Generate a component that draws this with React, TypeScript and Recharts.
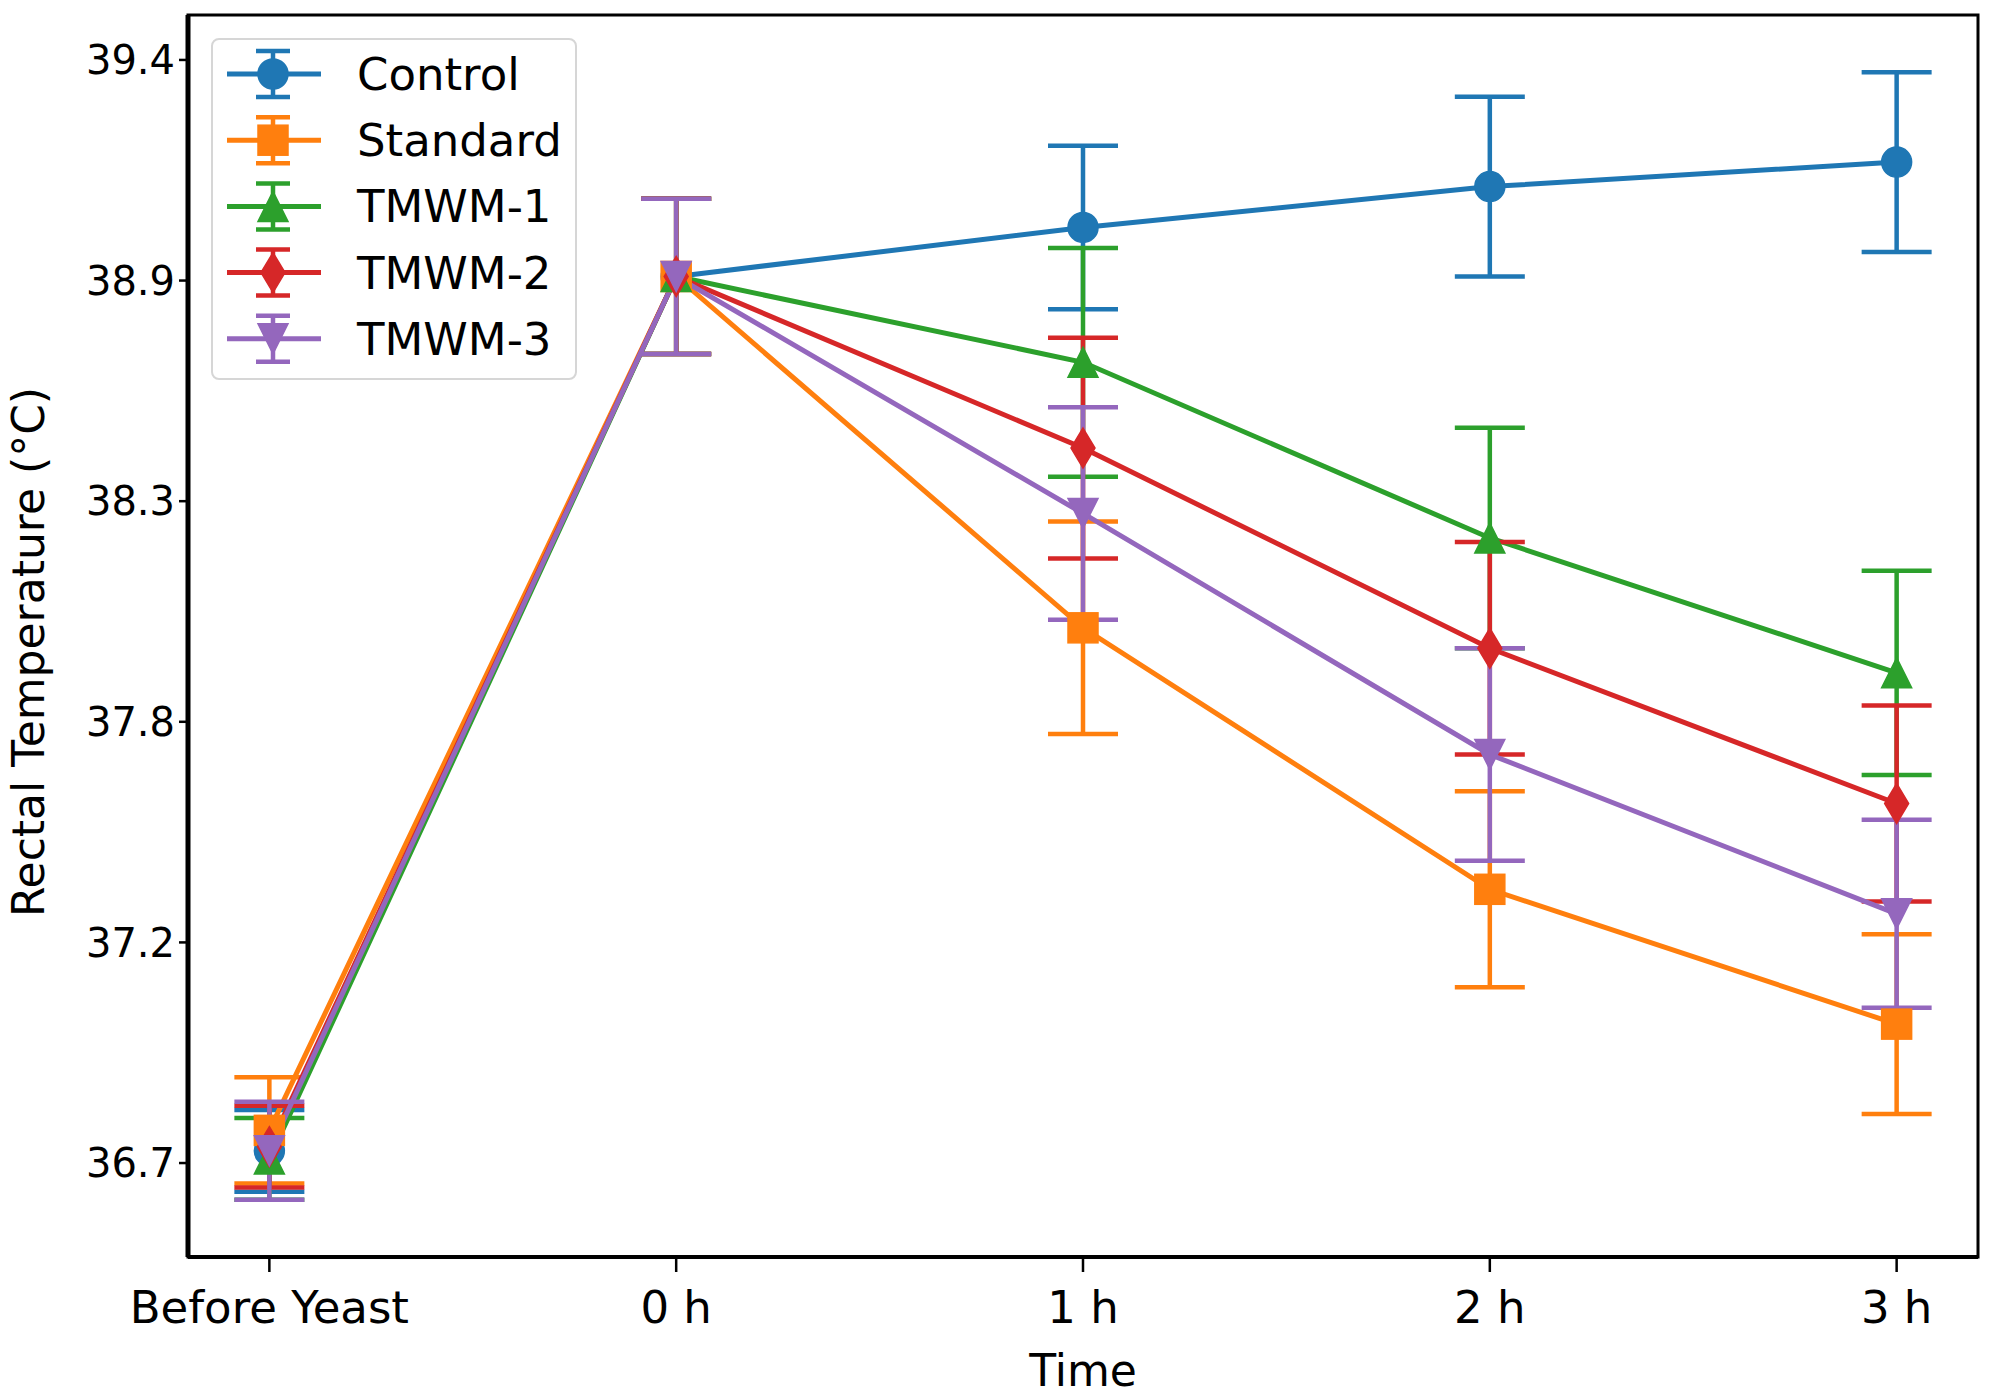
import React from "react";
import { LineChart, Line, XAxis, YAxis, ErrorBar, Legend, Label, ReferenceArea } from "recharts";

// time points on the x axis
const timeLabels = ["Before Yeast", "0 h", "1 h", "2 h", "3 h"];
const timeIndex = [0, 1, 2, 3, 4];
const yTicks = [36.7, 37.24, 37.78, 38.32, 38.86, 39.4];

// mean rectal temperature (°C) and error per group
const control = [36.73, 38.87, 38.99, 39.09, 39.15];
const controlErr = [0.1, 0.19, 0.2, 0.22, 0.22];
const standard = [36.78, 38.87, 38.01, 37.37, 37.04];
const standardErr = [0.13, 0.19, 0.26, 0.24, 0.22];
const tmwm1 = [36.71, 38.87, 38.66, 38.23, 37.9];
const tmwm1Err = [0.1, 0.19, 0.28, 0.27, 0.25];
const tmwm2 = [36.74, 38.87, 38.45, 37.96, 37.58];
const tmwm2Err = [0.1, 0.19, 0.27, 0.26, 0.24];
const tmwm3 = [36.73, 38.87, 38.29, 37.7, 37.31];
const tmwm3Err = [0.12, 0.19, 0.26, 0.26, 0.23];

const series = [
  { key: "control", name: "Control", color: "#1f77b4", marker: "circle" },
  { key: "standard", name: "Standard", color: "#ff7f0e", marker: "square" },
  { key: "tmwm1", name: "TMWM-1", color: "#2ca02c", marker: "triangle" },
  { key: "tmwm2", name: "TMWM-2", color: "#d62728", marker: "thinDiamond" },
  { key: "tmwm3", name: "TMWM-3", color: "#9467bd", marker: "triangleDown" },
];

const data = timeIndex.map((t, i) => ({
  t,
  control: control[i],
  controlErr: controlErr[i],
  standard: standard[i],
  standardErr: standardErr[i],
  tmwm1: tmwm1[i],
  tmwm1Err: tmwm1Err[i],
  tmwm2: tmwm2[i],
  tmwm2Err: tmwm2Err[i],
  tmwm3: tmwm3[i],
  tmwm3Err: tmwm3Err[i],
}));

const FONT = "DejaVu Sans";
const X_DOMAIN: [number, number] = [-0.2, 4.2];
const Y_DOMAIN: [number, number] = [36.47, 39.51];
const S = 30;

function Marker({ shape, cx, cy, color }: { shape: string; cx: number; cy: number; color: string }) {
  const h = S / 2;
  const common = { fill: color, stroke: color, strokeWidth: 1.5 };
  switch (shape) {
    case "circle":
      return <circle cx={cx} cy={cy} r={h} {...common} />;
    case "square":
      return <rect x={cx - h} y={cy - h} width={S} height={S} {...common} />;
    case "triangle":
      return <polygon points={`${cx},${cy - h} ${cx - h},${cy + h} ${cx + h},${cy + h}`} {...common} />;
    case "triangleDown":
      return <polygon points={`${cx},${cy + h} ${cx - h},${cy - h} ${cx + h},${cy - h}`} {...common} />;
    default: {
      const dh = 20;
      const dw = 12;
      return <polygon points={`${cx},${cy - dh} ${cx + dw},${cy} ${cx},${cy + dh} ${cx - dw},${cy}`} {...common} />;
    }
  }
}

function LegendBox() {
  return (
    <div
      style={{
        width: 366,
        height: 342,
        boxSizing: "border-box",
        border: "2px solid #d6d6d6",
        borderRadius: 8,
        background: "rgba(255,255,255,0.8)",
      }}
    >
      <svg width={362} height={338}>
        {series.map((s, i) => {
          const cy = 34 + i * 66.2;
          return (
            <g key={s.key}>
              <line x1={14} x2={108} y1={cy} y2={cy} stroke={s.color} strokeWidth={5} />
              <line x1={60} x2={60} y1={cy - 23} y2={cy + 23} stroke={s.color} strokeWidth={4.5} />
              <line x1={43} x2={77} y1={cy - 23} y2={cy - 23} stroke={s.color} strokeWidth={4.5} />
              <line x1={43} x2={77} y1={cy + 23} y2={cy + 23} stroke={s.color} strokeWidth={4.5} />
              <Marker shape={s.marker} cx={60} cy={cy} color={s.color} />
              <text x={144} y={cy + 16} fontSize={45} fontFamily={FONT} fill="#000">
                {s.name}
              </text>
            </g>
          );
        })}
      </svg>
    </div>
  );
}

export default function App() {
  return (
    <div style={{ position: "absolute", left: 0, top: 0, width: 1992, height: 1395, background: "#fff" }}>
      <LineChart width={1992} height={1395} data={data} margin={{ top: 15, right: 14, bottom: 0, left: 0 }}>
        <XAxis
          dataKey="t"
          type="number"
          domain={X_DOMAIN}
          ticks={timeIndex}
          interval={0}
          tickFormatter={(v) => timeLabels[v]}
          height={138}
          tickSize={15}
          tickMargin={19}
          tick={{ fontSize: 45, fill: "#000", fontFamily: FONT }}
          tickLine={{ stroke: "#000", strokeWidth: 2.5 }}
          axisLine={{ stroke: "#000", strokeWidth: 4 }}
        >
          <Label value="Time" position="insideBottom" offset={9} style={{ fontSize: 44, fill: "#000", fontFamily: FONT }} />
        </XAxis>
        <YAxis
          type="number"
          domain={Y_DOMAIN}
          ticks={yTicks}
          interval={0}
          tickFormatter={(v) => Number(v).toFixed(1)}
          width={188}
          tickSize={9}
          tickMargin={4}
          tick={{ fontSize: 40, fill: "#000", fontFamily: FONT }}
          tickLine={{ stroke: "#000", strokeWidth: 2.5 }}
          axisLine={{ stroke: "#000", strokeWidth: 5 }}
        >
          <Label
            content={(props: any) => {
              const vb = props.viewBox || { y: 15, height: 1242 };
              const cy = vb.y + vb.height / 2 + 16;
              return (
                <text
                  x={44}
                  y={cy}
                  transform={`rotate(-90, 44, ${cy})`}
                  textAnchor="middle"
                  fontSize={44}
                  fontFamily={FONT}
                  fill="#000"
                >
                  Rectal Temperature (°C)
                </text>
              );
            }}
          />
        </YAxis>
        <ReferenceArea
          x1={X_DOMAIN[0]}
          x2={X_DOMAIN[1]}
          y1={Y_DOMAIN[0]}
          y2={Y_DOMAIN[1]}
          fill="none"
          fillOpacity={0}
          stroke="#000"
          strokeWidth={3}
          ifOverflow="visible"
        />
        <Legend
          content={() => <LegendBox />}
          layout="vertical"
          align="center"
          verticalAlign="middle"
          wrapperStyle={{ left: 211, top: 38, width: 366, height: 342 }}
        />
        {series.map((s) => (
          <Line
            key={s.key}
            dataKey={s.key}
            name={s.name}
            type="linear"
            stroke={s.color}
            strokeWidth={5}
            isAnimationActive={false}
            activeDot={false}
            dot={(p: any) => (
              <Marker key={`${s.key}-${p.index}`} shape={s.marker} cx={p.cx} cy={p.cy} color={s.color} />
            )}
          >
            <ErrorBar
              dataKey={`${s.key}Err`}
              direction="y"
              width={35}
              stroke={s.color}
              strokeWidth={4.5}
              isAnimationActive={false}
            />
          </Line>
        ))}
      </LineChart>
    </div>
  );
}
